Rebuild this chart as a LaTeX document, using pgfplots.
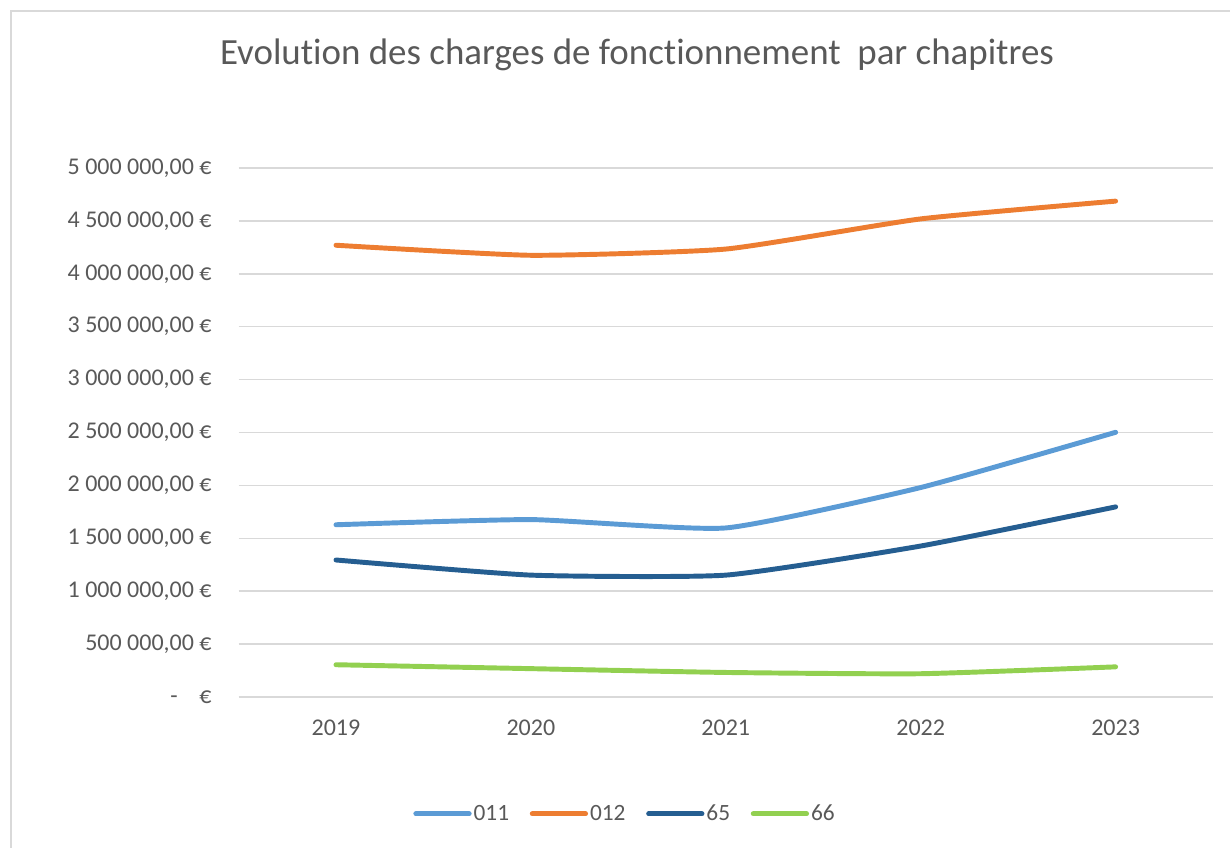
\documentclass[border=0pt]{standalone}
\usepackage{pgfplots}
\pgfplotsset{compat=1.18}
\usepackage{fontspec}
\setmainfont{Carlito}[Ligatures=NoCommon]
\definecolor{c011}{HTML}{5B9BD5}
\definecolor{c012}{HTML}{ED7D31}
\definecolor{c65}{HTML}{255E91}
\definecolor{c66}{HTML}{92D050}
\definecolor{txt}{HTML}{595959}
\definecolor{gridc}{HTML}{D9D9D9}
\begin{document}
\begin{tikzpicture}
\useasboundingbox (0,0) rectangle (922.5pt,635.25pt);
\draw[gridc, line width=1.2pt] (8.25pt,-2pt) -- (8.25pt,627pt) -- (925pt,627pt);
\node[txt, font=\fontsize{27.7}{32}\selectfont] at (477.75pt,594pt) {Evolution des charges de fonctionnement~ par chapitres};
\begin{axis}[
  at={(178.9pt,112.5pt)}, anchor=south west, scale only axis,
  width=730.9pt, height=396.75pt,
  xmin=-0.5, xmax=4.5, ymin=0, ymax=5000000,
  scaled y ticks=false,
  xtick={0,1,2,3,4}, xticklabels={2019,2020,2021,2022,2023},
  ytick={0,500000,1000000,1500000,2000000,2500000,3000000,3500000,4000000,4500000,5000000},
  yticklabels={{-\hspace{0.9em}€},{500 000,00 €},{1 000 000,00 €},{1 500 000,00 €},{2 000 000,00 €},{2 500 000,00 €},{3 000 000,00 €},{3 500 000,00 €},{4 000 000,00 €},{4 500 000,00 €},{5 000 000,00 €}},
  ymajorgrids, grid style={gridc, line width=1.1pt},
  axis line style={draw=none}, major tick length=0pt,
  tick label style={txt, font=\fontsize{18}{21}\selectfont},
  yticklabel style={anchor=east, inner sep=0pt, xshift=-20pt},
  xticklabel style={anchor=north, inner sep=0pt, yshift=-17pt},
  clip=false,
  legend columns=4,
  legend style={draw=none, fill=none, at={(0.3966,-0.221)}, anchor=center,
    font=\fontsize{17.5}{20}\selectfont, text=txt,
    nodes={inner sep=1.5pt},
    /tikz/every even column/.append style={column sep=14pt}},
  legend image code/.code={\draw[#1, line width=3.7pt, line cap=round] (0pt,0pt) -- (40pt,0pt);},
  every axis plot/.append style={line width=3.7pt, line cap=round, line join=round, smooth, tension=0.3, mark=none}
]
\addplot[c011] coordinates {(0,1628000) (1,1677000) (2,1598000) (3,1980000) (4,2502000)};
\addlegendentry{011}
\addplot[c012] coordinates {(0,4270000) (1,4175000) (2,4234000) (3,4519000) (4,4687000)};
\addlegendentry{012}
\addplot[c65] coordinates {(0,1295000) (1,1152000) (2,1152000) (3,1427000) (4,1797000)};
\addlegendentry{65}
\addplot[c66] coordinates {(0,305000) (1,268000) (2,232000) (3,220000) (4,285000)};
\addlegendentry{66}
\end{axis}
\end{tikzpicture}
\end{document}
